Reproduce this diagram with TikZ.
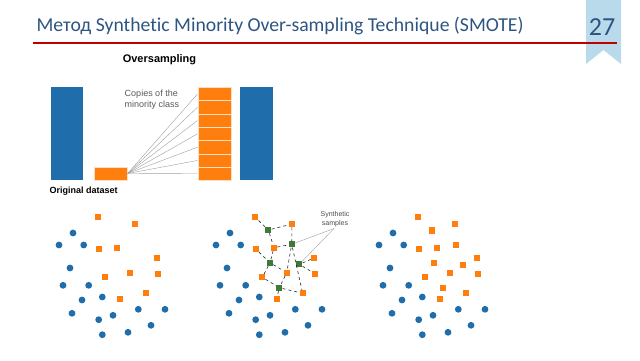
\documentclass[tikz,border=0pt]{standalone}
\usepackage{fontspec}
\setmainfont{Carlito}[Ligatures=NoCommon]
\newfontfamily\arialfont{Liberation Sans}
\usepackage{tikz}
\usetikzlibrary{positioning}
\definecolor{smblue}{HTML}{1F6DAA}
\definecolor{smorange}{HTML}{FF7F0E}
\definecolor{smgreen}{HTML}{3F7A38}
\definecolor{smtitle}{HTML}{2E5581}
\definecolor{smred}{HTML}{C00000}
\definecolor{smribbon}{HTML}{B9DAEA}

% point clouds (pixel positions of the first panel)
\newcommand\majpts{73/233, 59/245, 83.7/245, 70/268, 63/285.3, 88.7/285.3, 82/300, 102.3/297, 72/313.3, 98.7/319.7, 113/315.3, 138.3/309.3, 165/309.3, 151/325.3, 102.3/334.7, 128/332.3}
\newcommand\minpts{98.3/217.3, 135/224, 98.7/249, 117/247.7, 157/258, 129.7/272.7, 158.3/274, 105.3/277.3, 145.7/293.3, 119.7/298.7}
\newcommand\synpts{111.3/230, 134.7/244.3, 113/262.7, 142.3/264.3, 122.3/287.7}

\begin{document}
\begin{tikzpicture}[x=1pt,y=-1pt,
  bar/.style={fill=smblue,inner sep=0pt,minimum width=32.5pt,minimum height=93pt},
  cell/.style={fill=smorange,draw=orange!25,line width=0.6pt,inner sep=0pt,
    minimum width=33pt,minimum height=13.3pt},
  fan/.style={draw=gray!75,line width=0.4pt},
  maj/.style={circle,fill=smblue,inner sep=0pt,minimum size=6.8pt},
  mino/.style={fill=smorange,inner sep=0pt,minimum size=6.2pt},
  syn/.style={fill=smgreen,inner sep=0pt,minimum size=6.2pt},
  lnk/.style={dashed,line width=0.6pt,black!85},
  lbl/.style={font={\arialfont\fontsize{9}{11.5}\selectfont},text=black!65,align=left}]
  \useasboundingbox (0,0) rectangle (640,360);
  % header
  \fill[smribbon] (586,0) -- (621,0) -- (621,64) -- (603.5,50) -- (586,64) -- cycle;
  \node[anchor=base west,font=\fontsize{19.7}{24}\selectfont,text=smtitle] (title) at (33,31)
    {Метод Synthetic Minority Over-sampling Technique (SMOTE)};
  \draw[smred,line width=2pt] (33,43) -- (617,43);
  \node[font=\fontsize{26}{30}\selectfont,text=smtitle] (page) at (602,27) {27};
  % oversampling bars
  \node[font={\arialfont\bfseries\fontsize{11}{13}\selectfont}] (os) at (159.5,59.5) {Oversampling};
  \node[bar] (orig-maj) at (67.2,133.6) {};
  \node[cell,minimum height=13pt] (orig-min) at (110.8,173.5) {};
  \node[font={\arialfont\bfseries\fontsize{9}{11}\selectfont},below=3pt of orig-maj.south east] (orig-lbl) {Original dataset};
  \foreach \i in {1,...,7}
    \node[cell] (copy\i) at (214.3,{87.3+13.3*(\i-0.5)}) {};
  \node[bar] (over-maj) at (256.4,133.6) {};
  \node[lbl] (copies) at (152,99.5) {Copies of the\\minority class};
  \foreach \i in {1,...,7}
    \draw[fan] (orig-min.east) -- (copy\i.west);
  % three scatter panels
  \foreach \dx/\p in {0/a,157/b,320/c} {
    \foreach \x/\y [count=\i] in \majpts
      \node[maj] (\p-m\i) at (\x+\dx,\y) {};
    \foreach \x/\y [count=\i] in \minpts
      \node[mino] (\p-o\i) at (\x+\dx,\y) {};
  }
  \foreach \x/\y [count=\i] in \synpts
    \node[syn] (b-s\i) at (\x+157,\y) {};
  \foreach \x/\y [count=\i] in \synpts
    \node[mino] (c-s\i) at (\x+321,\y+0.5) {};
  \foreach \u/\v in {o1/s1,s1/o2,s1/o4,o2/s2,o4/s2,s2/o6,s2/o9,o3/s3,s3/o4,s3/o6,s3/o8,
      s4/o5,s4/o7,o6/s5,o8/s5,s5/o10,s5/o9}
    \draw[lnk] (b-\u) -- (b-\v);
  \node[font={\arialfont\fontsize{7}{9.5}\selectfont},text=black!70,align=center] (syn-lbl) at (335,219)
    {Synthetic\\samples};
  \coordinate (syn-tip) at (334,228.5);
  \draw[fan] (syn-tip) -- (b-s2);
  \draw[fan] (syn-tip) -- (b-s4);
\end{tikzpicture}
\end{document}
